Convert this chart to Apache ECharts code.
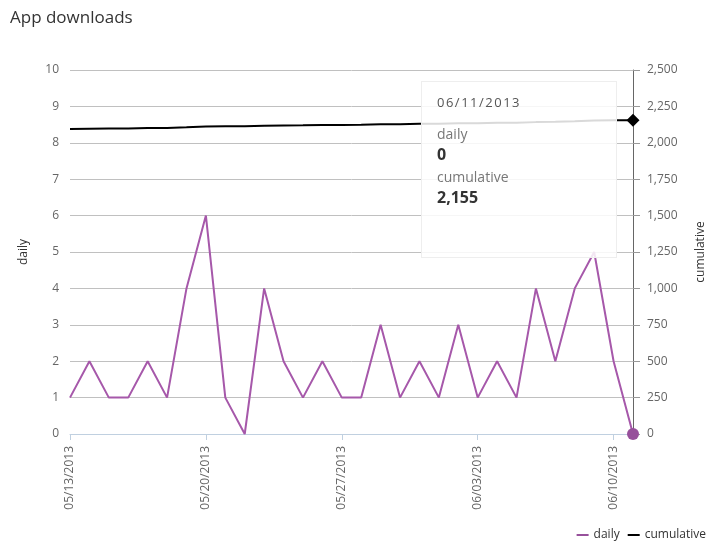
<!DOCTYPE html>
<html><head><meta charset="utf-8">
<script src="https://cdn.jsdelivr.net/npm/echarts@6/dist/echarts.min.js"></script>
<style>html,body{margin:0;padding:0;background:#fff}#c{width:722px;height:542px}</style>
</head><body><div id="c"></div>
<script>
var dates = ['05/13/2013','05/14/2013','05/15/2013','05/16/2013','05/17/2013','05/18/2013','05/19/2013','05/20/2013','05/21/2013','05/22/2013','05/23/2013','05/24/2013','05/25/2013','05/26/2013','05/27/2013','05/28/2013','05/29/2013','05/30/2013','05/31/2013','06/01/2013','06/02/2013','06/03/2013','06/04/2013','06/05/2013','06/06/2013','06/07/2013','06/08/2013','06/09/2013','06/10/2013','06/11/2013'];
var daily = [1,2,1,1,2,1,4,6,1,0,4,2,1,2,1,1,3,1,2,1,3,1,2,1,4,2,4,5,2,0];
var cumulative = [2095,2097,2098,2099,2101,2102,2106,2112,2113,2113,2117,2119,2120,2122,2123,2124,2127,2128,2130,2131,2134,2135,2137,2138,2142,2144,2148,2153,2155,2155];
var dailyTicks = [0,1,2,3,4,5,6,7,8,9,10];
var cumTicks = [0,250,500,750,1000,1250,1500,1750,2000,2250,2500];

var FONT = '"Open Sans", "Noto Sans", sans-serif';
var PURPLE = '#97509b';
var last = dates.length - 1;
function fmt(n){return n.toString().replace(/\B(?=(\d{3})+(?!\d))/g, ',');}

var chart = echarts.init(document.getElementById('c'), null, {renderer:'canvas'});
chart.setOption({
  animation: false,
  textStyle: {fontFamily: FONT},
  title: {text: 'App downloads', left: 5, top: 5, textStyle: {fontSize: 17, fontWeight: 'normal', color: '#333', fontFamily: FONT}},
  grid: {left: 70, right: 89, top: 70, bottom: 108},
  legend: {
    right: 11, top: 524, icon: 'rect', itemWidth: 12, itemHeight: 2, itemGap: 8,
    textStyle: {fontSize: 12, color: '#333', fontFamily: FONT},
    data: ['daily', 'cumulative']
  },
  tooltip: {
    trigger: 'axis', triggerOn: 'none', alwaysShowContent: true, transitionDuration: 0,
    axisPointer: {type: 'none'},
    position: [421, 81],
    backgroundColor: 'rgba(255,255,255,0.85)', borderColor: '#eeeeee', borderWidth: 1, borderRadius: 0,
    padding: [10, 15, 10, 15],
    extraCssText: 'box-shadow:none;width:164px;height:155px;box-sizing:content-box;',
    formatter: function(ps){
      var d = ps[0].axisValue;
      var s = '<div style="font-family:' + FONT.replace(/"/g,"'") + ';">';
      s += '<div style="font-size:13px;color:#555;letter-spacing:1.5px;line-height:20px;">' + d + '</div>';
      s += '<div style="height:13px"></div>';
      ps.forEach(function(p){
        s += '<div style="font-size:14px;color:#777;line-height:18px;">' + p.seriesName + '</div>';
        s += '<div style="font-size:16px;color:#333;font-weight:bold;line-height:22px;margin-bottom:3px;">' + fmt(p.value) + '</div>';
      });
      return s + '</div>';
    }
  },
  xAxis: {
    type: 'category', data: dates, boundaryGap: false,
    axisLine: {show: true, lineStyle: {color: '#c0d0e0', width: 1}},
    axisTick: {show: true, interval: 6, length: 6, lineStyle: {color: '#c0d0e0'}},
    axisLabel: {interval: 6, rotate: 90, color: '#666', fontSize: 12, margin: 12, fontFamily: FONT},
    splitLine: {show: false}
  },
  yAxis: [{
    type: 'value', min: 0, max: 10, interval: 1, name: 'daily', nameLocation: 'middle', nameGap: 40, nameRotate: 90,
    nameTextStyle: {color: '#333', fontSize: 12, fontFamily: FONT},
    axisLine: {show: false}, axisTick: {show: false},
    axisLabel: {color: '#666', fontSize: 12, margin: 11, fontFamily: FONT},
    splitLine: {lineStyle: {color: '#c0c0c0', width: 1}}
  }, {
    type: 'value', min: 0, max: 2500, interval: 250, name: 'cumulative', nameLocation: 'middle', nameGap: 62, nameRotate: 90,
    nameTextStyle: {color: '#333', fontSize: 12, fontFamily: FONT},
    axisLine: {show: true, lineStyle: {color: '#666', width: 1}},
    axisTick: {show: true, length: 7, lineStyle: {color: '#999'}},
    axisLabel: {color: '#666', fontSize: 12, margin: 14, fontFamily: FONT, formatter: function(v){return fmt(v);}},
    splitLine: {show: false}
  }],
  series: [{
    name: 'daily', type: 'line', yAxisIndex: 0, data: daily, symbol: 'none', color: PURPLE,
    lineStyle: {width: 2, color: PURPLE},
    markPoint: {symbol: 'circle', symbolSize: 12, label: {show: false}, itemStyle: {color: PURPLE},
      data: [{coord: [last, daily[last]]}], silent: true}
  }, {
    name: 'cumulative', type: 'line', yAxisIndex: 1, data: cumulative, symbol: 'none', color: '#000',
    lineStyle: {width: 2, color: '#000'},
    markPoint: {symbol: 'diamond', symbolSize: 13, label: {show: false}, itemStyle: {color: '#000'},
      data: [{coord: [last, cumulative[last]]}], silent: true}
  }]
});
chart.dispatchAction({type: 'showTip', seriesIndex: 0, dataIndex: last});
</script></body></html>
